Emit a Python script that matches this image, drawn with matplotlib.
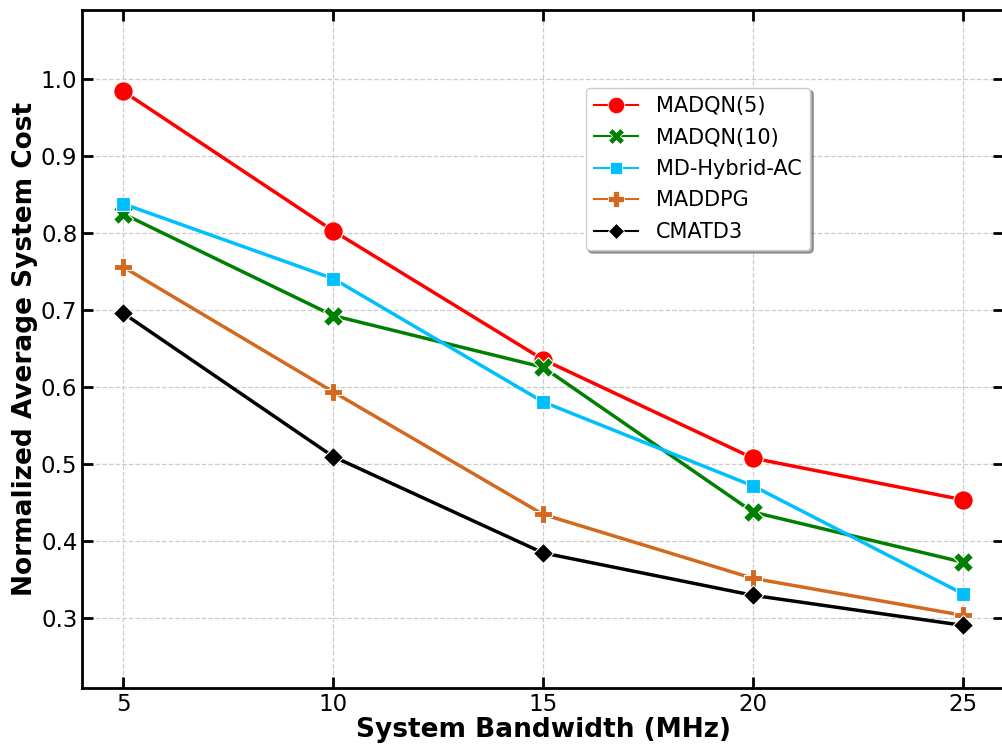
import matplotlib
matplotlib.use("Agg")
import matplotlib.pyplot as plt

bandwidth = [5, 10, 15, 20, 25]
madqn5 = [0.984, 0.803, 0.636, 0.508, 0.454]
madqn10 = [0.825, 0.693, 0.626, 0.438, 0.373]
hybrid_ac = [0.838, 0.741, 0.581, 0.472, 0.332]
maddpg = [0.756, 0.594, 0.435, 0.352, 0.304]
cmatd3 = [0.696, 0.510, 0.385, 0.330, 0.291]

series = [
    ("MADQN(5)", madqn5, "red", "o", 14),
    ("MADQN(10)", madqn10, "green", "X", 14),
    ("MD-Hybrid-AC", hybrid_ac, "#00BFFF", "s", 10),
    ("MADDPG", maddpg, "#D2691E", "P", 13),
    ("CMATD3", cmatd3, "black", "D", 10),
]

fig = plt.figure(figsize=(10.03, 7.5), dpi=100)
ax = fig.add_axes([0.082, 0.083, 0.919, 0.904])

handles = []
for label, vals, color, marker, ms in series:
    ax.plot(bandwidth, vals, color=color, lw=2.5, marker=marker, ms=ms,
            markeredgecolor="white", markeredgewidth=0.8, label=label)
    h, = ax.plot([], [], color=color, lw=1.5, marker=marker, ms=ms * 0.85,
                 markeredgecolor="white", markeredgewidth=0.6)
    handles.append(h)

ax.set_xlim(4.02, 25.98)
ax.set_ylim(0.21, 1.09)
ax.set_xticks(bandwidth)
ax.set_yticks([0.3, 0.4, 0.5, 0.6, 0.7, 0.8, 0.9, 1.0])
ax.set_yticklabels(["0.3", "0.4", "0.5", "0.6", "0.7", "0.8", "0.9", "1.0"])
ax.grid(True, linestyle="--", color="#cccccc", lw=0.9)
ax.tick_params(direction="in", labelsize=16.5, length=8, width=2,
               top=True, right=True)
for s in ax.spines.values():
    s.set_linewidth(2)

ax.set_xlabel("System Bandwidth (MHz)", fontsize=19, fontweight="bold", labelpad=1)
ax.set_ylabel("Normalized Average System Cost", fontsize=19, fontweight="bold", labelpad=2)

leg = ax.legend(handles, [s[0] for s in series], loc="upper left",
                bbox_to_anchor=(0.546, 0.885), borderaxespad=0, fontsize=15,
                shadow=True, fancybox=True, framealpha=1, handlelength=2.1,
                labelspacing=0.55, handletextpad=0.9)

fig.savefig("out.png", dpi=100)
